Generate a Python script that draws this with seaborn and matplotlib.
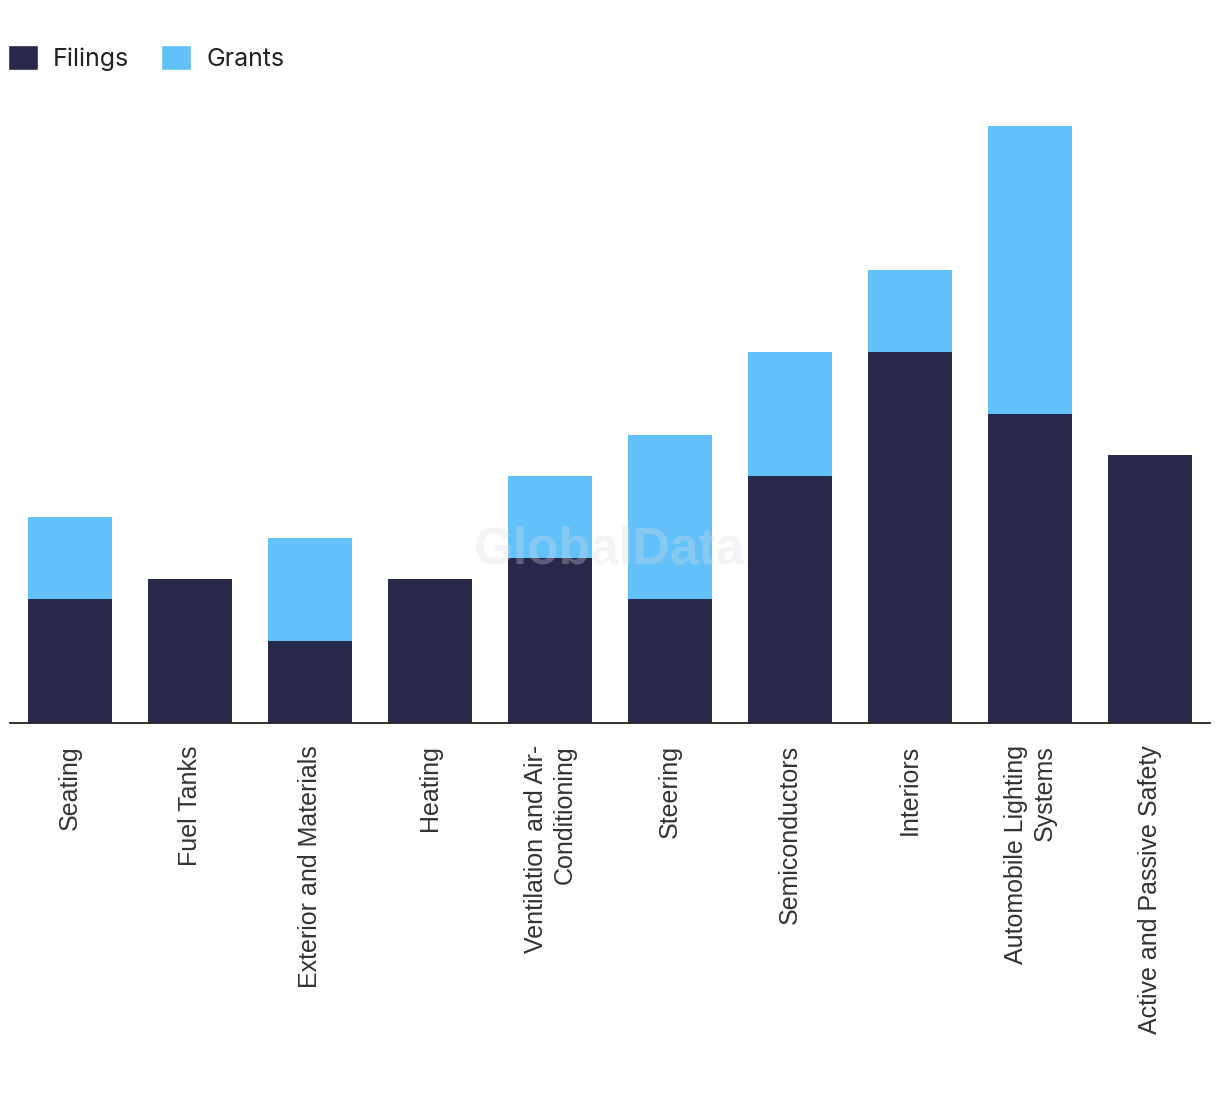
import matplotlib
matplotlib.use("Agg")
import matplotlib.pyplot as plt
from matplotlib.patches import Patch
import seaborn as sns
import pandas as pd

categories = [
    "Seating",
    "Fuel Tanks",
    "Exterior and Materials",
    "Heating",
    "Ventilation and Air-\nConditioning",
    "Steering",
    "Semiconductors",
    "Interiors",
    "Automobile Lighting\nSystems",
    "Active and Passive Safety",
]
filings = [6, 7, 4, 7, 8, 6, 12, 18, 15, 13]
grants = [4, 0, 5, 0, 4, 8, 6, 4, 14, 0]

FILINGS_COLOR = "#27284A"
GRANTS_COLOR = "#62C1F9"

df = pd.DataFrame({"category": categories, "filings": filings, "grants": grants})
df["total"] = df["filings"] + df["grants"]

sns.set_theme(style="white")
plt.rcParams["font.family"] = ["Liberation Sans", "DejaVu Sans"]

fig = plt.figure(figsize=(12.2, 10.94), dpi=100)
ax = fig.add_axes([10 / 1220, 371 / 1094, 1200 / 1220, 618 / 1094])

# stacked: totals first (grants part shows above), filings drawn over
sns.barplot(data=df, x="category", y="total", color=GRANTS_COLOR,
            width=0.7, saturation=1, linewidth=0, ax=ax)
sns.barplot(data=df, x="category", y="filings", color=FILINGS_COLOR,
            width=0.7, saturation=1, linewidth=0, ax=ax)

ax.set_xlim(-0.5, len(categories) - 0.5)
ax.set_ylim(0, 30)
ax.set_xlabel("")
ax.set_ylabel("")
ax.set_yticks([])
for s in ["top", "right", "left"]:
    ax.spines[s].set_visible(False)
ax.spines["bottom"].set_color("#222222")
ax.spines["bottom"].set_linewidth(1.3)

ax.tick_params(axis="x", length=0, pad=16)
ax.set_xticks(range(len(categories)))
ax.set_xticklabels(categories, rotation=90, fontsize=18, color="#333333",
                   va="top", ha="center", multialignment="right",
                   linespacing=1.25)

# watermark
ax.text(0.5, 0.28, "GlobalData", transform=ax.transAxes, ha="center",
        va="center", fontsize=37, fontweight="bold", color="#dddddd",
        alpha=0.3, zorder=5, family=["Liberation Sans", "DejaVu Sans"])

handles = [Patch(facecolor=FILINGS_COLOR, label="Filings"),
           Patch(facecolor=GRANTS_COLOR, label="Grants")]
fig.legend(handles=handles, loc="upper left", bbox_to_anchor=(-0.008, 0.975),
           ncol=2, frameon=False, handlelength=1.2, handleheight=1.2,
           handletextpad=0.6, columnspacing=1.3, borderaxespad=0.3,
           prop={"family": ["Inter", "DejaVu Sans"], "size": 18},
           labelcolor="#222222")

fig.savefig("out.png", dpi=100, facecolor="white")
